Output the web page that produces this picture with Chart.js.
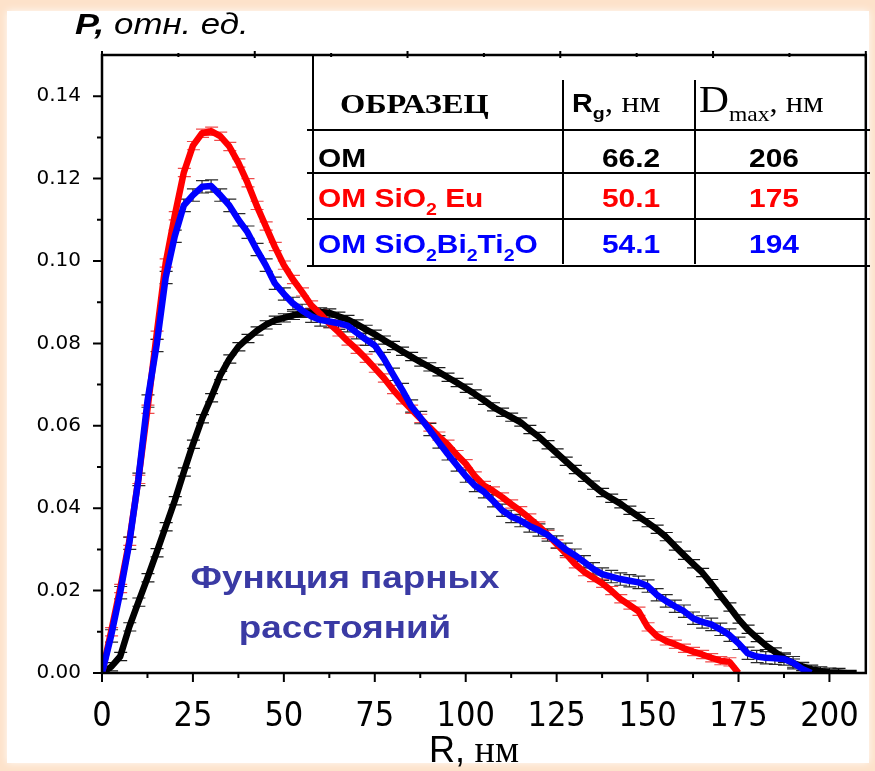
<!DOCTYPE html>
<html>
<head>
<meta charset="utf-8">
<script src="https://cdn.jsdelivr.net/npm/chart.js@4.4.1/dist/chart.umd.min.js"></script>
<style>
  html, body { margin: 0; padding: 0; background: #fde2ca; }
  #wrap { width: 875px; height: 771px; }
</style>
</head>
<body>
<div id="wrap"><canvas id="pddfChart" width="875" height="771"></canvas></div>
<script>
// R, нм - common grid for all three curves
const rValues = [
  0, 2.5, 5, 7.5, 10, 12.5, 15, 17.5, 20, 22.5, 25, 27.5, 30, 32.5, 35, 37.5, 40, 42.5, 45, 47.5,
  50, 52.5, 55, 57.5, 60, 62.5, 65, 67.5, 70, 72.5, 75, 77.5, 80, 82.5, 85, 87.5, 90, 92.5, 95, 97.5,
  100, 102.5, 105, 107.5, 110, 112.5, 115, 117.5, 120, 122.5, 125, 127.5, 130, 132.5, 135, 137.5,
  140, 142.5, 145, 147.5, 150, 152.5, 155, 157.5, 160, 162.5, 165, 167.5, 170, 172.5, 175, 177.5,
  180, 182.5, 185, 187.5, 190, 192.5, 195, 197.5, 200, 202.5, 205, 207.5
];

// P(R), отн. ед.
const pOM = [
  0, 0.0015, 0.0040, 0.0112, 0.0172, 0.0231, 0.0292, 0.0355, 0.0418, 0.0488, 0.0555, 0.0617, 0.0668,
  0.0722, 0.0762, 0.0792, 0.0812, 0.0830, 0.0845, 0.0856, 0.0862, 0.0868, 0.0873, 0.0875, 0.0876,
  0.0874, 0.0866, 0.0858, 0.0847, 0.0834, 0.0822, 0.0808, 0.0795, 0.0781, 0.0768, 0.0755, 0.0743,
  0.0731, 0.0718, 0.0705, 0.0691, 0.0677, 0.0662, 0.0646, 0.0633, 0.0621, 0.0609, 0.0591, 0.0574,
  0.0554, 0.0534, 0.0514, 0.0494, 0.0475, 0.0456, 0.0438, 0.0424, 0.0411, 0.0395, 0.0380, 0.0365,
  0.0349, 0.0331, 0.0308, 0.0286, 0.0265, 0.0244, 0.0217, 0.0188, 0.0160, 0.0131, 0.0106, 0.0086,
  0.0067, 0.0051, 0.0036, 0.0024, 0.0016, 0.0009, 0.0005, 0.0002, 0.0001, 0, 0
];
const pSiO2Eu = [
  0, 0.0100, 0.0205, 0.0320, 0.0470, 0.0640, 0.0820, 0.0995, 0.1110, 0.1215, 0.1280, 0.1310, 0.1315,
  0.1303, 0.1278, 0.1238, 0.1190, 0.1135, 0.1085, 0.1035, 0.0990, 0.0955, 0.0925, 0.0893, 0.0872,
  0.0848, 0.0828, 0.0806, 0.0786, 0.0764, 0.0740, 0.0716, 0.0688, 0.0663, 0.0640, 0.0618, 0.0597,
  0.0575, 0.0555, 0.0530, 0.0508, 0.0478, 0.0455, 0.0442, 0.0427, 0.0410, 0.0394, 0.0376, 0.0357,
  0.0336, 0.0313, 0.0290, 0.0265, 0.0246, 0.0232, 0.0218, 0.0200, 0.0180, 0.0165, 0.0150, 0.0112,
  0.0090, 0.0078, 0.0070, 0.0060, 0.0052, 0.0045, 0.0037, 0.0030, 0.0027, 0
];
const pSiO2BiTiO = [
  0, 0.0090, 0.0195, 0.0315, 0.0470, 0.0660, 0.0795, 0.0960, 0.1060, 0.1135, 0.1160, 0.1180, 0.1182,
  0.1160, 0.1135, 0.1100, 0.1070, 0.1028, 0.0990, 0.0946, 0.0920, 0.0897, 0.0880, 0.0866, 0.0857,
  0.0853, 0.0849, 0.0843, 0.0826, 0.0810, 0.0795, 0.0763, 0.0725, 0.0688, 0.0648, 0.0620, 0.0591,
  0.0561, 0.0532, 0.0505, 0.0478, 0.0455, 0.0440, 0.0418, 0.0395, 0.0380, 0.0370, 0.0357, 0.0347,
  0.0335, 0.0318, 0.0300, 0.0286, 0.0270, 0.0253, 0.0240, 0.0234, 0.0228, 0.0224, 0.0220, 0.0211,
  0.0190, 0.0175, 0.0162, 0.0150, 0.0133, 0.0124, 0.0118, 0.0106, 0.0092, 0.0072, 0.0048, 0.0040,
  0.0037, 0.0036, 0.0034, 0.0025, 0.0010, 0
];

// half-height of the error bars
const errOM = 0.0010;
const errSiO2Eu = 0.0010;
const errSiO2BiTiO = 0.0015;

const xTicks = [0, 25, 50, 75, 100, 125, 150, 175, 200];
const yTicks = [0, 0.02, 0.04, 0.06, 0.08, 0.10, 0.12, 0.14];
const topTicks = [0, 42, 84, 126, 168, 210];

// table: Rg and Dmax for each sample
const rgValues = ['66.2', '50.1', '54.1'];
const dmaxValues = ['206', '175', '194'];

const SANS = '"Liberation Sans", Arial, sans-serif';
const NARROW = '"Liberation Sans Narrow", "Arial Narrow", "DejaVu Sans Condensed", sans-serif';
const SERIF = '"Liberation Serif", "Times New Roman", serif';
const SX = 1.15;

function toPoints(values) {
  return values.map((v, i) => ({ x: rValues[i], y: v }));
}

// text built of pieces with own fonts (for subscripts etc.)
function drawRich(ctx, parts, x, y, sx, align, color) {
  ctx.save();
  ctx.textAlign = 'left';
  ctx.textBaseline = 'alphabetic';
  ctx.fillStyle = color;
  let w = 0;
  parts.forEach(p => { ctx.font = p[1]; w += ctx.measureText(p[0]).width; });
  let cx = align === 'center' ? -w / 2 : (align === 'right' ? -w : 0);
  ctx.translate(x, y);
  ctx.scale(sx, 1);
  parts.forEach(p => {
    ctx.font = p[1];
    ctx.fillText(p[0], cx, p[2] || 0);
    cx += ctx.measureText(p[0]).width;
  });
  ctx.restore();
}

const backdrop = {
  id: 'backdrop',
  beforeDraw(chart) {
    const ctx = chart.ctx;
    ctx.save();
    ctx.fillStyle = '#fde2ca';
    ctx.fillRect(0, 0, chart.width, chart.height);
    ctx.shadowColor = 'rgba(255,255,255,0.9)';
    ctx.shadowBlur = 8;
    ctx.fillStyle = '#ffffff';
    ctx.fillRect(7, 11, 862, 752);
    ctx.restore();
  }
};

const errorBars = {
  id: 'errorBars',
  beforeDatasetsDraw(chart) {
    const ctx = chart.ctx;
    const ys = chart.scales.y;
    const area = chart.chartArea;
    ctx.save();
    ctx.beginPath();
    ctx.rect(area.left, area.top - 5, area.right - area.left, area.bottom - area.top + 5);
    ctx.clip();
    ctx.lineWidth = 1.2;
    chart.data.datasets.forEach((ds, i) => {
      const meta = chart.getDatasetMeta(i);
      ctx.strokeStyle = ds.errColor;
      meta.data.forEach((pt, j) => {
        const v = ds.data[j].y;
        if (v <= 0) return;
        const y1 = ys.getPixelForValue(v + ds.err);
        const y2 = ys.getPixelForValue(Math.max(0, v - ds.err));
        ctx.beginPath();
        ctx.moveTo(pt.x, y1); ctx.lineTo(pt.x, y2);
        ctx.moveTo(pt.x - 6, y1); ctx.lineTo(pt.x + 7, y1);
        ctx.moveTo(pt.x - 6, y2); ctx.lineTo(pt.x + 7, y2);
        ctx.stroke();
      });
    });
    ctx.restore();
  }
};

const frame = {
  id: 'frame',
  afterDraw(chart) {
    const ctx = chart.ctx;
    const a = chart.chartArea;
    const xs = chart.scales.x, ys = chart.scales.y;
    ctx.save();
    ctx.strokeStyle = '#000';
    ctx.lineWidth = 2.5;
    ctx.strokeRect(a.left, a.top, a.right - a.left, a.bottom - a.top);
    ctx.lineWidth = 2;
    ctx.beginPath();
    // bottom axis: major and minor ticks
    xTicks.forEach(v => {
      const px = xs.getPixelForValue(v);
      ctx.moveTo(px, a.bottom); ctx.lineTo(px, a.bottom + 9);
      const mx = xs.getPixelForValue(v + 12.5);
      if (mx < a.right - 2) { ctx.moveTo(mx, a.bottom); ctx.lineTo(mx, a.bottom + 5); }
    });
    // left axis
    yTicks.forEach(v => {
      const py = ys.getPixelForValue(v);
      ctx.moveTo(a.left - 9, py); ctx.lineTo(a.left, py);
      const my = ys.getPixelForValue(v + 0.01);
      if (my > a.top + 2) { ctx.moveTo(a.left - 5, my); ctx.lineTo(a.left, my); }
    });
    // top axis
    topTicks.forEach((v, k) => {
      const px = xs.getPixelForValue(v);
      ctx.moveTo(px, a.top - 4); ctx.lineTo(px, a.top + 3);
      if (k < topTicks.length - 1) {
        const mx = xs.getPixelForValue(v + 21);
        ctx.moveTo(mx, a.top - 2); ctx.lineTo(mx, a.top + 2);
      }
    });
    ctx.stroke();

    // axis titles
    drawRich(ctx, [['P,', `bold italic 30px ${SANS}`], [' отн. ед.', `italic 29px ${SANS}`]], 75, 34, 1.2, 'left', '#000');
    drawRich(ctx, [['R,', `36px ${SANS}`], [' нм', `38px ${SERIF}`]], 474, 762, 1.0, 'center', '#000');

    // results table
    ctx.lineWidth = 2;
    ctx.beginPath();
    ctx.moveTo(313, a.top); ctx.lineTo(313, 266);
    ctx.moveTo(563, 80); ctx.lineTo(563, 264);
    ctx.moveTo(695, 80); ctx.lineTo(695, 264);
    [130, 173, 219, 266].forEach(y => { ctx.moveTo(307, y); ctx.lineTo(870, y); });
    ctx.stroke();

    drawRich(ctx, [['ОБРАЗЕЦ', `bold 27px ${SERIF}`]], 340, 113, 1.2, 'left', '#000');
    drawRich(ctx, [['R', `bold 25px ${SANS}`], ['g', `bold 17px ${SANS}`, 7], [', нм', `29px ${SERIF}`]], 572, 112, 1.15, 'left', '#000');
    drawRich(ctx, [['D', `37px ${SERIF}`], ['max', `21px ${SERIF}`, 9], [', нм', `29px ${SERIF}`]], 699, 112, 1.12, 'left', '#000');

    const B = `bold 26px ${SANS}`, S = `bold 17px ${SANS}`;
    const rows = [
      { parts: [['OM', B]], y: 167, color: '#000000' },
      { parts: [['OM SiO', B], ['2', S, 8], [' Eu', B]], y: 207, color: '#ff0000' },
      { parts: [['OM SiO', B], ['2', S, 8], ['Bi', B], ['2', S, 8], ['Ti', B], ['2', S, 8], ['O', B]], y: 253, color: '#0000ff' }
    ];
    rows.forEach((row, k) => {
      drawRich(ctx, row.parts, 318, row.y, SX, 'left', row.color);
      drawRich(ctx, [[rgValues[k], B]], 631, row.y, SX, 'center', row.color);
      drawRich(ctx, [[dmaxValues[k], B]], 774, row.y, SX, 'center', row.color);
    });

    // caption inside the plot
    drawRich(ctx, [['Функция парных', `bold 32px ${SANS}`]], 345, 588, SX, 'center', '#3a3aa4');
    drawRich(ctx, [['расстояний', `bold 32px ${SANS}`]], 345, 638, SX, 'center', '#3a3aa4');
    ctx.restore();
  }
};

const lineStyle = { borderWidth: 6.5, pointRadius: 0, tension: 0, fill: false, borderJoinStyle: 'round' };

new Chart(document.getElementById('pddfChart'), {
  type: 'line',
  data: {
    datasets: [
      Object.assign({ label: 'OM', data: toPoints(pOM), borderColor: '#000000', order: 3,
        err: errOM, errColor: '#1a1a1a' }, lineStyle),
      Object.assign({ label: 'OM SiO2 Eu', data: toPoints(pSiO2Eu), borderColor: '#ff0000', order: 2,
        err: errSiO2Eu, errColor: 'rgba(235,30,30,0.8)' }, lineStyle),
      Object.assign({ label: 'OM SiO2Bi2Ti2O', data: toPoints(pSiO2BiTiO), borderColor: '#0000ff', order: 1,
        err: errSiO2BiTiO, errColor: '#2a2a2a' }, lineStyle)
    ]
  },
  options: {
    responsive: false,
    animation: false,
    events: [],
    layout: { padding: { top: 55, right: 8, left: 0, bottom: 0 } },
    plugins: { legend: { display: false }, tooltip: { enabled: false } },
    scales: {
      x: {
        type: 'linear', min: 0, max: 210,
        afterBuildTicks: s => { s.ticks = xTicks.map(v => ({ value: v })); },
        afterFit: s => { s.height = 98; },
        grid: { display: false },
        border: { display: false },
        ticks: { color: '#000', padding: 16, maxRotation: 0, autoSkip: false,
          font: { family: NARROW, size: 34 }, callback: v => String(v) }
      },
      y: {
        min: 0, max: 0.15,
        afterBuildTicks: s => { s.ticks = yTicks.map(v => ({ value: v })); },
        afterFit: s => { s.width = 102; },
        grid: { display: false },
        border: { display: false },
        ticks: { color: '#000', padding: 13, font: { family: '"DejaVu Sans", sans-serif', size: 20 },
          callback: v => v.toFixed(2) }
      }
    }
  },
  plugins: [backdrop, errorBars, frame]
});
</script>
</body>
</html>
